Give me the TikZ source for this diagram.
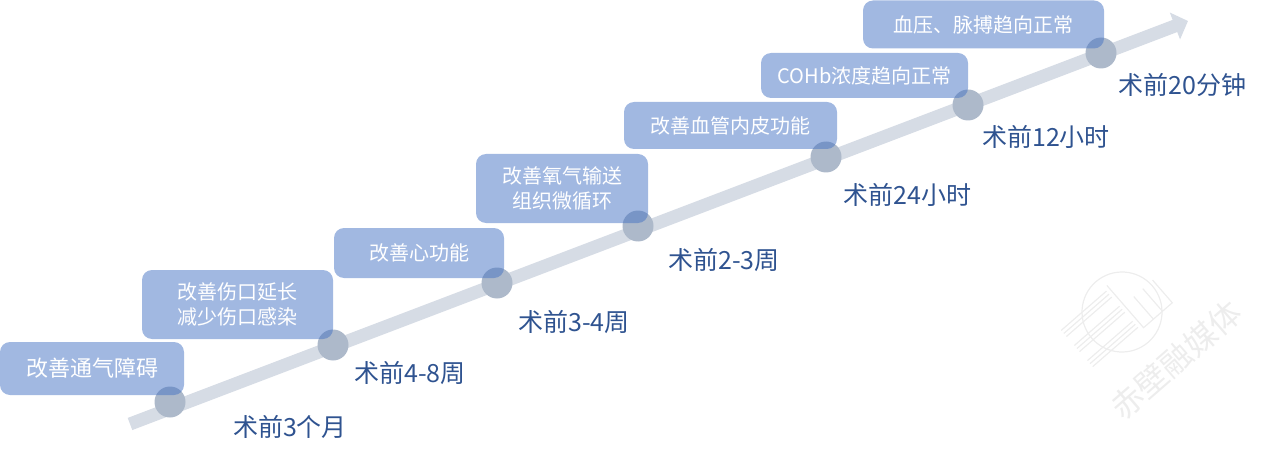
\documentclass[tikz,border=0pt]{standalone}
\usepackage{fontspec}
\setmainfont{Noto Sans CJK SC}
\usetikzlibrary{arrows.meta}
\definecolor{linec}{HTML}{D6DCE5}
\definecolor{dotc}{HTML}{ADB9CA}
\definecolor{boxc}{HTML}{4472C4}
\definecolor{labc}{HTML}{2F5390}
\definecolor{wmc}{HTML}{EDEDED}
\begin{document}
\begin{tikzpicture}[x=1pt,y=-1pt,
  stepbox/.style={rectangle, rounded corners=10pt, fill=boxc, fill opacity=0.5,
    text opacity=1, text=white, font=\fontsize{20}{25}\selectfont, align=center, inner sep=0pt},
  dot/.style={circle, fill=dotc, minimum size=31pt, inner sep=0pt},
  lab/.style={text=labc, font=\fontsize{25}{30}\selectfont, inner sep=0pt},
  wmline/.style={wmc, line width=1.2pt}]
\useasboundingbox (0,0) rectangle (1268,457);
% watermark logo
\begin{scope}[shift={(1122,312)}, rotate=41]
  \draw[wmline] (0,0) circle[radius=40];
  \foreach \yy in {-26,-22,-18, -6,-2,2, 14,18,22}
    \draw[wmline] (-58,\yy) -- (2,\yy);
  \draw[wmline] (6,-30) -- (6,26) -- (44,26) -- (44,-4);
  \draw[wmline] (19,26) -- (19,-4);
  \draw[wmline] (31,26) -- (31,-4);
\end{scope}
\node[rotate=41, text=wmc, font=\fontsize{32}{32}\selectfont] (wm) at (1176,360) {赤壁融媒体};
% timeline arrow
\coordinate (s) at (130,424);
\coordinate (e) at (1188,21);
\draw[linec, line width=13pt, -{Triangle[length=14pt,width=28pt]}] (s) -- (e);
% dots
\node[dot] (c1) at (170,402) {};
\node[dot] (c2) at (333,345) {};
\node[dot] (c3) at (497,283) {};
\node[dot] (c4) at (638,226) {};
\node[dot] (c5) at (826,157) {};
\node[dot] (c6) at (968,105) {};
\node[dot] (c7) at (1101,53) {};
% boxes
\node[stepbox, minimum width=184pt, minimum height=53pt, font=\fontsize{22}{26}\selectfont] (b1) at (92,368.5) {改善通气障碍};
\node[stepbox, minimum width=191pt, minimum height=69pt] (b2) at (237.5,304.5) {改善伤口延长\\减少伤口感染};
\node[stepbox, minimum width=170pt, minimum height=50pt] (b3) at (419,253) {改善心功能};
\node[stepbox, minimum width=172pt, minimum height=69pt] (b4) at (562,188.5) {改善氧气输送\\组织微循环};
\node[stepbox, minimum width=213pt, minimum height=47pt] (b5) at (730.5,125.5) {改善血管内皮功能};
\node[stepbox, minimum width=207pt, minimum height=45pt] (b6) at (864.5,75.5) {COHb浓度趋向正常};
\node[stepbox, minimum width=241pt, minimum height=48pt] (b7) at (983.5,24.5) {血压、脉搏趋向正常};
% labels
\node[lab] (l1) at (290,427) {术前3个月};
\node[lab] (l2) at (410,373) {术前4-8周};
\node[lab] (l3) at (574,322) {术前3-4周};
\node[lab] (l4) at (724,260) {术前2-3周};
\node[lab] (l5) at (907.5,195) {术前24小时};
\node[lab] (l6) at (1046,137) {术前12小时};
\node[lab] (l7) at (1182.5,85) {术前20分钟};
\end{tikzpicture}
\end{document}
